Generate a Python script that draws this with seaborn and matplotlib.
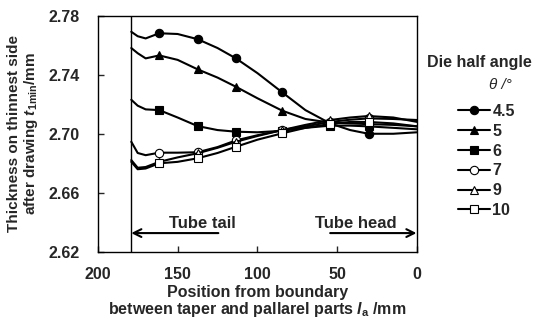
import numpy as np
import pandas as pd
import matplotlib
matplotlib.use('Agg')
import matplotlib.pyplot as plt
import seaborn as sns

# position from boundary (mm) where the curves were read
pos = [179, 175, 170, 161.5, 150, 137.5, 125, 113.5, 100, 84.5, 70, 54.5, 42, 30.5, 15, 0]
# indices of pos that carry a marker
mark_idx = [3, 5, 7, 9, 11, 13]

angles = ['4.5', '5', '6', '7', '9', '10']
t_45 = [2.769, 2.766, 2.7645, 2.768, 2.7675, 2.764, 2.758, 2.751, 2.741, 2.728, 2.716, 2.707, 2.7025, 2.700, 2.700, 2.701]
t_5 = [2.758, 2.7545, 2.751, 2.753, 2.750, 2.7436, 2.738, 2.7318, 2.724, 2.7156, 2.710, 2.7075, 2.707, 2.7065, 2.706, 2.705]
t_6 = [2.723, 2.719, 2.7165, 2.716, 2.711, 2.7052, 2.7025, 2.7014, 2.701, 2.702, 2.704, 2.7055, 2.7055, 2.705, 2.704, 2.703]
t_7 = [2.6946, 2.687, 2.6855, 2.6872, 2.6872, 2.6875, 2.691, 2.6955, 2.699, 2.7025, 2.705, 2.708, 2.7095, 2.7104, 2.710, 2.7093]
t_9 = [2.6822, 2.677, 2.6775, 2.681, 2.684, 2.6868, 2.6905, 2.6946, 2.6985, 2.7025, 2.706, 2.7093, 2.711, 2.712, 2.711, 2.708]
t_10 = [2.681, 2.676, 2.6765, 2.680, 2.681, 2.6834, 2.687, 2.6912, 2.696, 2.7003, 2.704, 2.7066, 2.708, 2.708, 2.707, 2.705]
series = [t_45, t_5, t_6, t_7, t_9, t_10]

markers = ['o', '^', 's', 'o', '^', 's']
faces = ['black', 'black', 'black', 'white', 'white', 'white']

sns.set_style('white')
plt.rcParams['font.family'] = ['Liberation Sans', 'DejaVu Sans']
plt.rcParams['font.weight'] = 'bold'
plt.rcParams['mathtext.fontset'] = 'custom'
plt.rcParams['mathtext.rm'] = 'Liberation Sans:bold'
plt.rcParams['mathtext.it'] = 'Liberation Sans:bold:italic'
plt.rcParams['mathtext.bf'] = 'Liberation Sans:bold'

fig = plt.figure(figsize=(5.37, 3.2), dpi=100)
ax = fig.add_axes([0.182, 0.2125, 0.595, 0.739])

for ang, vals, m, fc in zip(angles, series, markers, faces):
    df = pd.DataFrame({'pos': pos, 'thick': vals})
    sns.lineplot(data=df, x='pos', y='thick', ax=ax, color='black', lw=1.5,
                 marker=m, markevery=mark_idx, markersize=5.5 if m != 'o' else 6,
                 markerfacecolor=fc, markeredgecolor='black', markeredgewidth=0.8,
                 label=ang, sort=False)

ax.axvline(179, color='black', lw=1)

ax.set_xlim(200, 0)
ax.set_ylim(2.62, 2.78)
ax.set_xticks([200, 150, 100, 50, 0])
ax.set_yticks([2.62, 2.66, 2.70, 2.74, 2.78])
ax.set_yticklabels(['2.62', '2.66', '2.70', '2.74', '2.78'])
ax.tick_params(direction='in', length=4, width=1, labelsize=11.5,
               bottom=True, left=True)
ax.tick_params(axis='y', pad=13)
ax.tick_params(axis='x', pad=11)
for s in ax.spines.values():
    s.set_color('black')
    s.set_linewidth(1)

ax.set_xlabel('Position from boundary\nbetween taper and pallarel parts $l_{\\mathrm{a}}$ /mm',
              fontsize=11.5, fontweight='bold', linespacing=1.0, labelpad=2)
ax.set_ylabel('Thickness on thinnest side\nafter drawing $t_{\\mathrm{1min}}$/mm',
              fontsize=11, fontweight='bold', linespacing=1.1, labelpad=6)

# tube tail / head arrows
ax.annotate('', xy=(179, 2.6328), xytext=(124.5, 2.6328),
            arrowprops=dict(arrowstyle='->', color='black', lw=1.5,
                            mutation_scale=14, shrinkA=0, shrinkB=0))
ax.annotate('', xy=(0.5, 2.6328), xytext=(54.5, 2.6328),
            arrowprops=dict(arrowstyle='->', color='black', lw=1.5,
                            mutation_scale=14, shrinkA=0, shrinkB=0))
ax.text(134.5, 2.6396, 'Tube tail', ha='center', va='center', fontsize=12, fontweight='bold')
ax.text(38.5, 2.6396, 'Tube head', ha='center', va='center', fontsize=12, fontweight='bold')

leg = ax.legend(loc='upper left', bbox_to_anchor=(0.838, 0.70), bbox_transform=fig.transFigure,
                frameon=False, handlelength=2.0, handletextpad=0.15,
                labelspacing=0.3, borderpad=0, prop={'weight': 'bold', 'size': 11.5})
fig.text(0.893, 0.805, 'Die half angle', ha='center', va='center', fontsize=11.5, fontweight='bold')
fig.text(0.932, 0.734, '\u03b8 /\u00b0', ha='center', va='center', fontsize=11,
         fontweight='normal', style='italic')

fig.savefig('out.png', dpi=100)
